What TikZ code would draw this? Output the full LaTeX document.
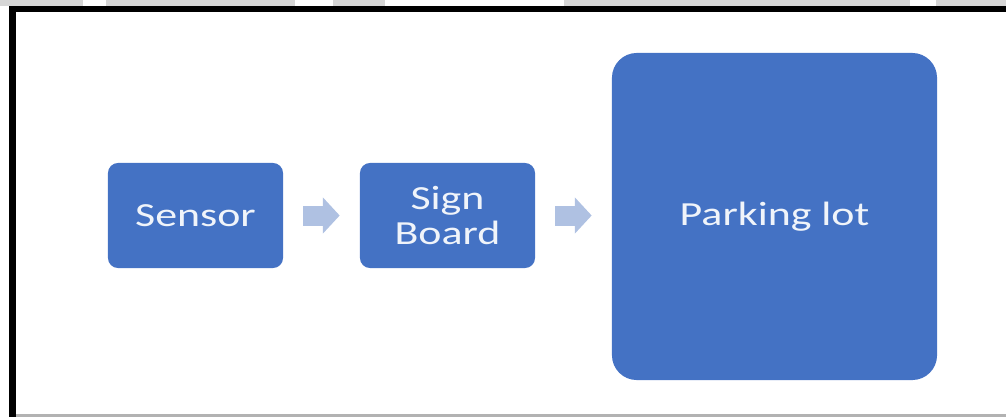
\documentclass[tikz,border=0pt]{standalone}
\usepackage{fontspec}
\setmainfont{Carlito}
\usepackage{tikz}
\usetikzlibrary{arrows.meta,calc,positioning}

\definecolor{boxblue}{HTML}{4472C4}
\definecolor{arrowblue}{HTML}{AFC1E2}
\definecolor{bandgray}{HTML}{D6D6D6}
\newcommand{\widetxt}[1]{\scalebox{1.3}[1]{#1}}

\begin{document}
\begin{tikzpicture}[
        x=0.025cm,
        y=-0.025cm,
        block/.style={fill=boxblue, rounded corners=0.25cm, text=white!92!boxblue,
            align=center, inner sep=0pt,
            font=\fontsize{24}{25}\selectfont},
        flow/.style={draw=arrowblue, line width=0.5cm,
            -{Triangle[length=0.42cm, width=0.88cm]},
            shorten <=0.5cm, shorten >=0.5cm}
    ]
        \useasboundingbox (0,0) rectangle (1006,417);
        % page frame
        \foreach \xa/\xb in {0/83,106/295,333/385,564/910,936/1006}{
            \fill[bandgray] (\xa,0) rectangle (\xb,6);
        }
        \fill[black] (9,6) rectangle (1006,12);
        \fill[black] (9,6) rectangle (16,417);
        \fill[gray!60] (16,414) rectangle (1006,417);
        % blocks
        \node[block, minimum width=4.375cm, minimum height=2.625cm] (sensor) at (195.5,215.5) {\widetxt{Sensor}};
        \node[block, minimum width=4.375cm, minimum height=2.625cm] (sign) at (447.5,215.5) {\widetxt{Sign}\\\widetxt{Board}};
        \node[block, minimum width=8.125cm, minimum height=8.175cm, rounded corners=0.62cm] (lot) at (774.5,216.5) {\widetxt{Parking lot}};
        % arrows
        \draw[flow] (sensor.east) -- (sign.west);
        \draw[flow] (sign.east) -- (sign.east -| lot.west);
    \end{tikzpicture}
\end{document}
